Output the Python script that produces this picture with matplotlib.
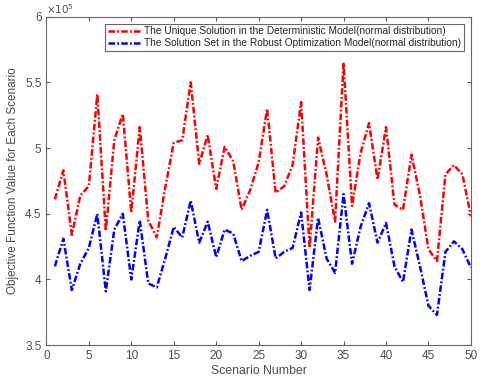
import numpy as np
import matplotlib as mpl
mpl.use("Agg")
import matplotlib.pyplot as plt

mpl.rcParams.update({
    "font.family": "sans-serif",
    "font.sans-serif": ["Liberation Sans", "DejaVu Sans"],
    "xtick.direction": "in", "ytick.direction": "in",
    "xtick.top": True, "ytick.right": True,
    "axes.linewidth": 0.8,
})

scenario = np.arange(1, 51)
deterministic = [4.61, 4.83, 4.34, 4.64, 4.71, 5.41, 4.37, 5.06, 5.26, 4.51,
                 5.16, 4.45, 4.32, 4.70, 5.04, 5.06, 5.50, 4.88, 5.10, 4.69,
                 5.01, 4.90, 4.53, 4.68, 4.89, 5.30, 4.66, 4.71, 4.87, 5.35,
                 4.24, 5.08, 4.80, 4.44, 5.65, 4.56, 4.96, 5.19, 4.76, 5.16,
                 4.57, 4.53, 4.95, 4.64, 4.23, 4.14, 4.80, 4.87, 4.80, 4.48]
robust = [4.10, 4.31, 3.92, 4.12, 4.24, 4.50, 3.91, 4.38, 4.50, 4.00,
          4.45, 3.97, 3.94, 4.16, 4.40, 4.32, 4.60, 4.28, 4.44, 4.17,
          4.38, 4.35, 4.14, 4.18, 4.21, 4.53, 4.16, 4.21, 4.24, 4.51,
          3.92, 4.47, 4.16, 4.05, 4.65, 4.12, 4.40, 4.58, 4.28, 4.43,
          4.10, 3.98, 4.38, 4.10, 3.80, 3.73, 4.21, 4.29, 4.23, 4.09]
labels = ["The Unique Solution in the Deterministic Model(normal distribution)",
          "The Solution Set in the Robust Optimization Model(normal distribution)"]

txt = "0.3"
dash = (2.6, 0.9, 0.7, 0.9)   # matlab-like dash-dot, scaled by lw
fig = plt.figure(figsize=(4.83, 3.87), dpi=100)
ax = fig.add_axes([0.096, 0.108, 0.879, 0.849])
ax.plot(scenario, np.array(deterministic) * 1e5, color="red", lw=1.8, dashes=dash, label=labels[0])
ax.plot(scenario, np.array(robust) * 1e5, color="blue", lw=1.8, dashes=dash, label=labels[1])

ax.set_xlim(0, 50); ax.set_ylim(3.5e5, 6e5)
ax.set_xticks(np.arange(0, 51, 5))
ax.set_yticks(np.arange(3.5e5, 6.01e5, 0.5e5))
ax.set_yticklabels(["3.5", "4", "4.5", "5", "5.5", "6"])
ax.tick_params(labelsize=8.5, colors="0.35", labelcolor=txt, length=3, width=0.8)
for s in ax.spines.values():
    s.set_color("0.4")
ax.text(0.0, 1.003, r"$\times10^5$", transform=ax.transAxes, fontsize=7.5, color=txt,
        ha="left", va="bottom")
ax.set_xlabel("Scenario Number", fontsize=8.8, color=txt, labelpad=2)
ax.set_ylabel("Objective Function Value for Each Scenario", fontsize=8.5, color=txt, labelpad=4)

leg = ax.legend(loc="upper right", fontsize=7.3, handlelength=3.3, handletextpad=0.3,
                borderpad=0.25, labelspacing=0.2, borderaxespad=0.7, fancybox=False,
                framealpha=1)
leg.get_frame().set_edgecolor("0.4"); leg.get_frame().set_linewidth(0.8)
for t in leg.get_texts():
    t.set_color("0.15")

fig.savefig("out.png", dpi=100)
